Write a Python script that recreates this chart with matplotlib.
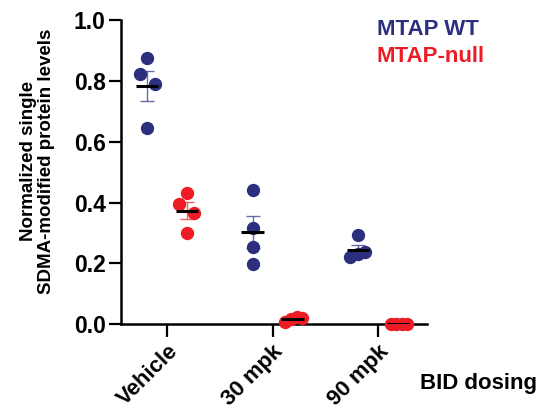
import matplotlib.pyplot as plt
import numpy as np

plt.rcParams["font.family"] = ["Liberation Sans", "DejaVu Sans"]
plt.rcParams["font.weight"] = "bold"

groups = ["Vehicle", "30 mpk", "90 mpk"]
wt_color = "#2B2F7E"
null_color = "#ED1C24"

# individual values per group
wt_values = [
    [0.877, 0.825, 0.789, 0.645],
    [0.443, 0.316, 0.253, 0.198],
    [0.294, 0.222, 0.230, 0.236],
]
null_values = [
    [0.432, 0.395, 0.366, 0.300],
    [0.008, 0.018, 0.022, 0.020],
    [0.000, 0.000, 0.000, 0.000],
]
# horizontal scatter of the dots
wt_jitter = [
    [0.0, -0.066, 0.076, 0.0],
    [0.0, 0.0, 0.0, 0.0],
    [0.0, -0.07, 0.0, 0.07],
]
null_jitter = [
    [0.0, -0.076, 0.066, 0.0],
    [-0.07, -0.015, 0.04, 0.09],
    [-0.06, -0.02, 0.04, 0.09],
]

fig = plt.figure(figsize=(5.39, 4.16), dpi=100)
ax = fig.add_axes([0.2245, 0.221, 0.568, 0.73])

offset = 0.19
for i in range(len(groups)):
    for vals, jit, col, sign in [(wt_values[i], wt_jitter[i], wt_color, -1),
                                 (null_values[i], null_jitter[i], null_color, 1)]:
        xc = i + sign * offset
        v = np.array(vals)
        m = v.mean()
        sem = v.std(ddof=1) / np.sqrt(len(v))
        ax.errorbar(xc, m, yerr=sem, color=col, alpha=0.7, lw=1.0, capsize=5,
                    capthick=1.0, zorder=2)
        ax.scatter(xc + np.array(jit), v, s=92, color=col, zorder=3,
                   clip_on=False, linewidths=0)
        ax.hlines(m, xc - 0.105, xc + 0.105, color="black", lw=2.2, zorder=4)

ax.set_xlim(-0.44, 2.47)
ax.set_ylim(0, 1.0)
ax.set_yticks([0, 0.2, 0.4, 0.6, 0.8, 1.0])
ax.set_yticklabels(["0.0", "0.2", "0.4", "0.6", "0.8", "1.0"])
ax.set_xticks(range(len(groups)))
ax.set_xticklabels(groups, rotation=45, ha="right", rotation_mode="anchor")
ax.tick_params(axis="y", width=1.6, length=9, labelsize=16.5, pad=2)
ax.tick_params(axis="x", width=1.6, length=9, labelsize=16, pad=3)
for lab in ax.get_xticklabels() + ax.get_yticklabels():
    lab.set_fontweight("bold")

for s in ["top", "right"]:
    ax.spines[s].set_visible(False)
for s in ["left", "bottom"]:
    ax.spines[s].set_linewidth(1.8)

fig.text(0.069, 0.613, "Normalized single\nSDMA-modified protein levels",
         rotation=90, ha="center", va="center", fontsize=13.5,
         fontweight="bold", linespacing=1.1)

fig.text(0.699, 0.930, "MTAP WT", color=wt_color, fontsize=16,
         fontweight="bold", va="center")
fig.text(0.699, 0.863, "MTAP-null", color=null_color, fontsize=16,
         fontweight="bold", va="center")
fig.text(0.779, 0.079, "BID dosing", color="black", fontsize=16,
         fontweight="bold", va="center")

fig.savefig("out.png", dpi=100)
